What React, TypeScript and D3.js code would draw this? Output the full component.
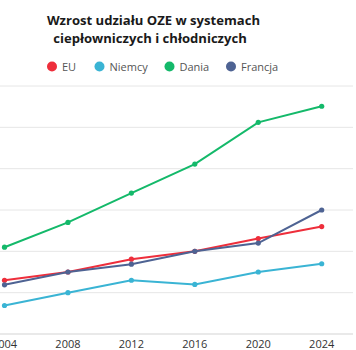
import React from 'react';
import * as d3 from 'd3';

const years = [2004, 2008, 2012, 2016, 2020, 2024];
const seriesNames = ['EU', 'Niemcy', 'Dania', 'Francja'];
const seriesColors = ['#ee2e3b', '#3ab4d4', '#14b96a', '#4e6393'];
const euValues = [13, 15, 18.1, 20, 23.1, 26];
const niemcyValues = [6.9, 10, 13, 12, 15, 17];
const daniaValues = [21, 27, 34.1, 41.1, 51.2, 55.1];
const francjaValues = [11.9, 15, 16.9, 20, 22, 30];
const yTicks = [0, 10, 20, 30, 40, 50, 60];

const W = 356;
const H = 350;
const font = '"Open Sans", "Noto Sans", sans-serif';

const App = () => {
  const x = d3.scaleLinear().domain([2004, 2024]).range([4.5, 321.7]);
  const y = d3.scaleLinear().domain([0, 60]).range([334, 86]);
  const line = d3.line<number>()
    .x((_, i) => x(years[i]))
    .y(d => y(d));

  const allSeries = [euValues, niemcyValues, daniaValues, francjaValues];
  // draw order: Dania on top-ish like the original
  const order = [2, 1, 0, 3];
  const legendX = [52, 99.5, 169.5, 231];

  return (
    <svg width={W} height={H} style={{ position: 'absolute', left: 0, top: 0, background: '#fff' }}>
      <text x={153.5} y={25} textAnchor="middle" fontFamily={font} fontWeight="bold" fontSize={13.1} fill="#1a1a1a">
        Wzrost udziału OZE w systemach
      </text>
      <text x={150} y={42.5} textAnchor="middle" fontFamily={font} fontWeight="bold" fontSize={13.1} fill="#1a1a1a">
        ciepłowniczych i chłodniczych
      </text>

      {seriesNames.map((name, i) => (
        <g key={name}>
          <circle cx={legendX[i]} cy={66.5} r={5} fill={seriesColors[i]} />
          <text x={legendX[i] + 10} y={70.5} fontFamily={font} fontSize={11} fill="#555">
            {name}
          </text>
        </g>
      ))}

      {yTicks.map(t => (
        <line key={t} x1={0} x2={353} y1={y(t)} y2={y(t)}
          stroke={t === 0 ? '#d4d4d4' : '#e6e6e6'} strokeWidth={t === 0 ? 1.2 : 1} />
      ))}

      {years.map(yr => (
        <text key={yr} x={x(yr)} y={347.5} textAnchor="middle" fontFamily={font} fontSize={11} fill="#333">
          {yr}
        </text>
      ))}

      {order.map(i => (
        <g key={seriesNames[i]}>
          <path d={line(allSeries[i]) || ''} fill="none" stroke={seriesColors[i]} strokeWidth={2} />
          {allSeries[i].map((v, j) => (
            <circle key={j} cx={x(years[j])} cy={y(v)} r={2.6} fill={seriesColors[i]} />
          ))}
        </g>
      ))}
    </svg>
  );
};

export default App;
